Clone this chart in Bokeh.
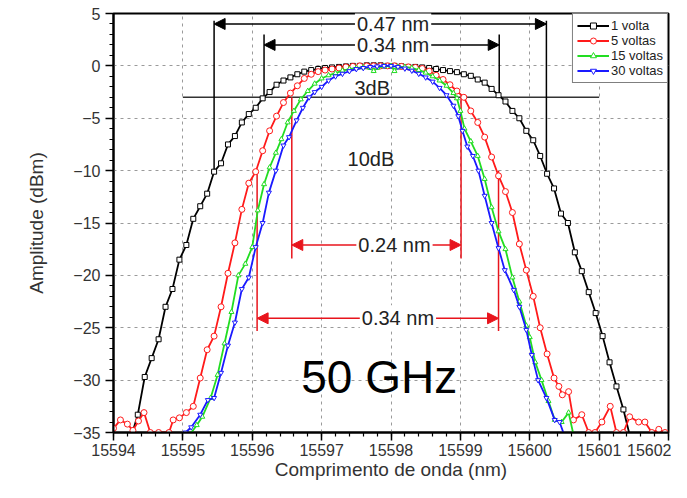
from bokeh.plotting import figure
from bokeh.models import (Range1d, SingleIntervalTicker, Arrow, NormalHead, Label)
from bokeh.embed import file_html
from bokeh.resources import INLINE

# ---------------- data ----------------
wl_1v = [15594.25, 15594.35, 15594.45, 15594.55, 15594.65, 15594.75, 15594.85, 15594.95,
         15595.05, 15595.15, 15595.25, 15595.35, 15595.45, 15595.55, 15595.65, 15595.75,
         15595.85, 15595.95, 15596.05, 15596.15, 15596.25, 15596.35, 15596.45, 15596.55,
         15596.65, 15596.75, 15596.85, 15596.95, 15597.05, 15597.15, 15597.25, 15597.35,
         15597.45, 15597.55, 15597.65, 15597.75, 15597.85, 15597.95, 15598.05, 15598.15,
         15598.25, 15598.35, 15598.45, 15598.55, 15598.65, 15598.75, 15598.85, 15598.95,
         15599.05, 15599.15, 15599.25, 15599.35, 15599.45, 15599.55, 15599.65, 15599.75,
         15599.85, 15599.95, 15600.05, 15600.15, 15600.25, 15600.35, 15600.45, 15600.55,
         15600.65, 15600.75, 15600.85, 15600.95, 15601.05, 15601.15, 15601.25, 15601.35,
         15601.45]
amp_1v = [-35.5, -33.3, -29.7, -27.9, -26.1, -23.0, -21.3, -18.5,
          -17.1, -14.6, -13.4, -12.2, -10.1, -9.3, -7.5, -6.7,
          -5.4, -4.6, -4.0, -3.1, -2.5, -1.8, -1.4, -1.1,
          -0.8, -0.55, -0.4, -0.3, -0.2, -0.15, -0.1, -0.05,
          0.0, 0.0, 0.05, 0.05, 0.05, 0.0, 0.0, -0.05,
          -0.1, -0.1, -0.15, -0.2, -0.3, -0.4, -0.5, -0.6,
          -0.8, -0.95, -1.3, -1.6, -2.2, -2.8, -3.4, -4.3,
          -5.0, -6.2, -7.1, -8.6, -10.3, -11.7, -14.1, -15.0,
          -17.8, -19.6, -21.6, -23.6, -25.8, -28.3, -30.6, -32.8,
          -35.5]

wl_5v = [15594.0, 15594.1, 15594.2, 15594.28, 15594.36, 15594.44, 15594.53, 15594.65,
         15594.8, 15594.86, 15594.95, 15595.05, 15595.15, 15595.25, 15595.35, 15595.45,
         15595.55, 15595.65, 15595.75, 15595.85, 15595.95, 15596.05, 15596.15, 15596.25,
         15596.35, 15596.45, 15596.55, 15596.65, 15596.75, 15596.85, 15596.95, 15597.05,
         15597.15, 15597.25, 15597.35, 15597.45, 15597.55, 15597.65, 15597.75, 15597.85,
         15597.95, 15598.05, 15598.15, 15598.25, 15598.35, 15598.45, 15598.55, 15598.65,
         15598.75, 15598.85, 15598.95, 15599.05, 15599.15, 15599.25, 15599.35, 15599.45,
         15599.55, 15599.65, 15599.75, 15599.85, 15599.95, 15600.05, 15600.15, 15600.25,
         15600.35, 15600.42, 15600.47, 15600.56, 15600.63, 15600.75, 15600.85, 15600.94,
         15601.04, 15601.16, 15601.25, 15601.35, 15601.44, 15601.57, 15601.66, 15601.76,
         15601.86, 15601.95]
amp_5v = [-34.6, -33.8, -34.2, -34.8, -33.9, -33.1, -35.0, -35.0,
          -35.0, -33.8, -33.6, -33.1, -32.5, -29.8, -27.1, -25.8,
          -23.0, -19.8, -16.9, -13.7, -11.2, -10.1, -8.1, -6.2,
          -4.8, -3.5, -2.6, -1.9, -1.2, -0.8, -0.55, -0.4,
          -0.3, -0.2, -0.1, -0.05, 0.0, 0.0, 0.0, 0.0,
          0.0, 0.0, -0.05, -0.1, -0.15, -0.25, -0.5, -0.9,
          -1.3, -1.8, -2.4, -3.0, -4.3, -5.4, -6.8, -8.7,
          -10.5, -12.0, -14.0, -17.0, -19.5, -22.0, -25.0, -27.5,
          -29.8, -30.6, -31.4, -31.1, -33.8, -33.3, -35.0, -35.0,
          -34.0, -32.5, -35.0, -35.0, -33.5, -34.0, -34.0, -35.0,
          -34.7, -35.0]

wl_15v = [15595.1, 15595.2, 15595.28, 15595.4, 15595.5, 15595.6, 15595.7, 15595.8,
          15595.9, 15596.0, 15596.08, 15596.17, 15596.25, 15596.34, 15596.42, 15596.51,
          15596.6, 15596.7, 15596.8, 15596.9, 15597.0, 15597.1, 15597.2, 15597.3,
          15597.4, 15597.5, 15597.6, 15597.7, 15597.75, 15597.8, 15597.9, 15598.0,
          15598.05, 15598.1, 15598.2, 15598.3, 15598.4, 15598.5, 15598.6, 15598.7,
          15598.8, 15598.9, 15598.95, 15599.0, 15599.06, 15599.15, 15599.25, 15599.35,
          15599.45, 15599.55, 15599.65, 15599.75, 15599.85, 15599.95, 15600.0, 15600.08,
          15600.17, 15600.27, 15600.36, 15600.46, 15600.56, 15600.63]
amp_15v = [-35.2, -34.3, -33.5, -31.7, -29.5, -26.5, -23.5, -20.0,
           -18.9, -17.3, -13.8, -11.3, -9.7, -8.3, -7.0, -5.4,
           -4.3, -3.2, -2.4, -1.7, -1.2, -0.9, -0.7, -0.45,
           -0.3, -0.2, -0.15, -0.2, -0.5, -0.2, -0.05, 0.0,
           -0.5, -0.1, -0.1, -0.2, -0.4, -0.65, -1.0, -1.4,
           -1.9, -2.6, -3.1, -4.3, -6.0, -7.2, -8.6, -10.8,
           -13.5, -15.8, -17.5, -20.2, -22.5, -24.8, -25.9, -28.3,
           -30.0, -32.0, -33.8, -34.0, -33.1, -35.2]

wl_30v = [15594.95, 15595.04, 15595.12, 15595.25, 15595.36, 15595.45, 15595.55, 15595.65,
          15595.75, 15595.85, 15595.95, 15596.05, 15596.15, 15596.24, 15596.34, 15596.45,
          15596.53, 15596.64, 15596.73, 15596.82, 15596.9, 15597.0, 15597.1, 15597.2,
          15597.3, 15597.4, 15597.5, 15597.6, 15597.7, 15597.8, 15597.9, 15598.0,
          15598.1, 15598.2, 15598.3, 15598.4, 15598.5, 15598.6, 15598.7, 15598.8,
          15598.9, 15598.97, 15599.03, 15599.1, 15599.18, 15599.26, 15599.35, 15599.45,
          15599.55, 15599.64, 15599.77, 15599.85, 15599.95, 15600.03, 15600.12, 15600.24,
          15600.36, 15600.43, 15600.5]
amp_30v = [-35.5, -35.0, -34.5, -33.3, -31.9, -31.7, -29.3, -26.7,
           -24.5, -21.3, -20.2, -17.3, -15.0, -12.1, -10.0, -7.6,
           -6.8, -5.2, -4.0, -3.0, -2.5, -2.0, -1.4, -1.0,
           -0.75, -0.5, -0.3, -0.2, -0.1, -0.05, 0.0, 0.0,
           -0.1, -0.25, -0.45, -0.75, -1.1, -1.5, -2.1, -2.8,
           -3.8, -4.8, -6.2, -7.7, -8.6, -10.0, -12.4, -15.0,
           -17.4, -19.5, -21.4, -23.0, -25.2, -27.6, -30.0, -31.7,
           -33.8, -34.0, -35.3]

series_names = ["1 volta", "5 voltas", "15 voltas", "30 voltas"]

# annotation values (widths measured on the spectra)
bw_labels = ["0.47 nm", "0.34 nm", "0.24 nm", "0.34 nm"]
bw_level = [4.0, 2.0, -17.1, -24.1]
bw_left = [15595.45, 15596.17, 15596.57, 15596.07]
bw_right = [15600.24, 15599.56, 15599.01, 15599.55]
bw_top = [4.3, 3.0, -3.0, -10.0]
bw_bottom = [-10.0, -3.0, -18.4, -25.3]
bw_colors = ["black", "black", "#e8141c", "#e8141c"]
bw_label_x = [15598.03, 15598.03, 15598.05, 15598.1]

ref_level = -3.0
ref_from, ref_to = 15595.0, 15601.0
db_texts = ["3dB", "10dB"]
db_text_x = [15597.73, 15597.71]
db_text_y = [-2.1, -8.9]
big_text = "50 GHz"
big_text_x, big_text_y = 15597.83, -29.7
x_title = "Comprimento de onda (nm)"
y_title = "Amplitude (dBm)"

FONT = "Liberation Sans"

p = figure(width=671, height=482, output_backend="svg", toolbar_location=None,
           x_range=Range1d(15594, 15602), y_range=Range1d(-35, 5),
           min_border_left=113, min_border_right=3, min_border_top=13, min_border_bottom=49,
           background_fill_color="white", border_fill_color="white")

p.outline_line_color = "black"
p.outline_line_width = 2

p.xaxis.ticker = SingleIntervalTicker(interval=1, num_minor_ticks=5)
p.yaxis.ticker = SingleIntervalTicker(interval=5, num_minor_ticks=5)
p.xgrid.ticker = SingleIntervalTicker(interval=1)
p.ygrid.ticker = SingleIntervalTicker(interval=5)

for ax in (p.xaxis, p.yaxis):
    ax.axis_line_width = 2
    ax.axis_line_color = "black"
    ax.major_tick_line_width = 1.5
    ax.minor_tick_line_width = 1.2
    ax.major_tick_line_color = "black"
    ax.minor_tick_line_color = "black"
    ax.major_tick_out = 8
    ax.major_tick_in = 0
    ax.minor_tick_out = 4
    ax.minor_tick_in = 0
    ax.major_label_text_font = FONT
    ax.major_label_text_font_size = "16px"
    ax.major_label_text_color = "#333333"
    ax.axis_label_text_font = FONT
    ax.axis_label_text_font_style = "normal"
    ax.axis_label_text_color = "#333333"

p.xaxis.axis_label = x_title
p.yaxis.axis_label = y_title
p.xaxis.axis_label_text_font_size = "19px"
p.yaxis.axis_label_text_font_size = "19px"
p.xaxis.major_label_standoff = 3
p.xaxis.axis_label_standoff = 0
p.yaxis.major_label_standoff = 5
p.yaxis.axis_label_standoff = 23

for g in (p.xgrid, p.ygrid):
    g.grid_line_color = "#9a9a9a"
    g.grid_line_dash = "3 4"
    g.grid_line_width = 1

# reference lines
p.segment(x0=[ref_from], y0=[ref_level], x1=[ref_to], y1=[ref_level],
          line_color="#333333", line_width=1.5)
p.segment(x0=bw_left, y0=bw_top, x1=bw_left, y1=bw_bottom, line_color=bw_colors, line_width=1.5)
p.segment(x0=bw_right, y0=bw_top, x1=bw_right, y1=bw_bottom, line_color=bw_colors, line_width=1.5)

styles = [
    (wl_1v, amp_1v, "black", "square", 5),
    (wl_5v, amp_5v, "#ff1a1a", "circle", 6),
    (wl_15v, amp_15v, "#22dd22", "triangle", 5),
    (wl_30v, amp_30v, "#1a1aff", "inverted_triangle", 5),
]
for (xs, ys, col, mk, sz), name in zip(styles, series_names):
    p.line(xs, ys, line_color=col, line_width=1.8, legend_label=name)
    p.scatter(xs, ys, marker=mk, size=sz, line_color=col, fill_color="white",
              line_width=1, legend_label=name)

for lab, yv, x0, x1, col, lx in zip(bw_labels, bw_level, bw_left, bw_right, bw_colors, bw_label_x):
    p.add_layout(Arrow(x_start=x0, y_start=yv, x_end=x1, y_end=yv, line_color=col, line_width=1.5,
                       start=NormalHead(size=11, fill_color=col, line_color=col),
                       end=NormalHead(size=11, fill_color=col, line_color=col)))
    p.add_layout(Label(x=lx, y=yv, text=lab, text_align="center", text_baseline="middle",
                       text_font=FONT, text_font_size="20px", text_color="#222222",
                       background_fill_color="white", padding=2))

for t, tx, ty in zip(db_texts, db_text_x, db_text_y):
    p.add_layout(Label(x=tx, y=ty, text=t, text_align="center", text_baseline="middle",
                       text_font=FONT, text_font_size="20px", text_color="#222222"))

p.add_layout(Label(x=big_text_x, y=big_text_y, text=big_text, text_align="center",
                   text_baseline="middle", text_font=FONT, text_font_size="46px",
                   text_color="black"))

lg = p.legend[0]
lg.location = "top_right"
lg.margin = 0
lg.padding = 4
lg.spacing = 0
lg.label_height = 15
lg.glyph_height = 15
lg.glyph_width = 32
lg.label_standoff = 2
lg.label_text_font = FONT
lg.label_text_font_size = "13px"
lg.label_text_color = "#222222"
lg.border_line_color = "black"
lg.border_line_width = 1.5
lg.background_fill_color = "white"
lg.background_fill_alpha = 1

open("out.html", "w").write(file_html(p, INLINE))
